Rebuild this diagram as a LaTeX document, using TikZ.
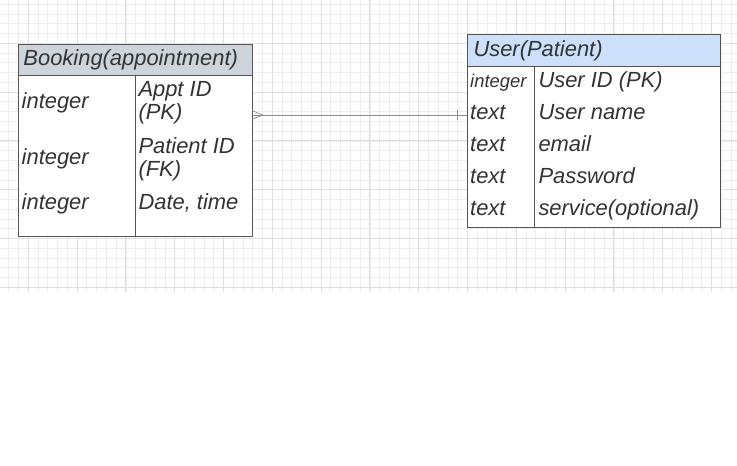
\documentclass[tikz,border=0pt]{standalone}
\usepackage{fontspec}
\setmainfont{Liberation Sans}
\definecolor{gridminor}{HTML}{EEEEEE}
\definecolor{gridmajor}{HTML}{E0E0E0}
\definecolor{hdrgray}{HTML}{CED4DC}
\definecolor{hdrblue}{HTML}{CCE0FB}
\definecolor{txtcol}{HTML}{333333}
\definecolor{bordercol}{HTML}{555555}
\definecolor{conncol}{HTML}{8C8C8C}
\begin{document}
\begin{tikzpicture}[x=1bp,y=-1bp,
  tbl/.style={draw=bordercol, line width=0.8bp, inner sep=0pt, outer sep=0pt, anchor=north west},
  divline/.style={draw=bordercol, line width=0.8bp},
  txt/.style={font=\fontsize{22}{24}\selectfont\itshape, text=txtcol, inner sep=0pt, anchor=base west},
  smalltxt/.style={font=\fontsize{18.5}{20}\selectfont\itshape, text=txtcol, inner sep=0pt, anchor=base west},
  conn/.style={draw=conncol, line width=0.7bp},
  minorgrid/.style={draw=gridminor, line width=0.8bp},
  majorgrid/.style={draw=gridmajor, line width=0.9bp}]
\useasboundingbox[fill=white] (0,0) rectangle (737,466);
% grid
\foreach \k in {1,...,76} {\draw[minorgrid] ({-0.98+9.76*\k},0) -- ({-0.98+9.76*\k},292);}
\foreach \k in {0,...,29} {\draw[minorgrid] (0,{4.3+9.76*\k}) -- (737,{4.3+9.76*\k});}
\foreach \k in {0,...,14} {\draw[majorgrid] ({28.3+48.8*\k},0) -- ({28.3+48.8*\k},292);}
\foreach \k in {0,...,5} {\draw[majorgrid] (0,{43.3+48.8*\k}) -- (737,{43.3+48.8*\k});}

% Booking table
\node[tbl, fill=white, minimum width=234bp, minimum height=191.7bp] (booking) at (18.3,44.3) {};
\node[tbl, fill=hdrgray, minimum width=234bp, minimum height=31.4bp] (bookhdr) at (18.3,44.3) {};
\coordinate (bdiv) at (135.7,0);
\draw[divline] (bdiv |- bookhdr.south) -- (bdiv |- booking.south);
\node[txt] (bt) at (23.3,66) {Booking(appointment)};
\node[txt] (bi1) at (21.5,108.3) {integer};
\node[txt] (bi2) at (21.5,165) {integer};
\node[txt] (bi3) at (21.5,210) {integer};
\node[txt] (ba1) at (138.3,96.7) {Appt ID};
\node[txt] (ba2) at (138.3,120) {(PK)};
\node[txt] (bp1) at (138.3,153.3) {Patient ID};
\node[txt] (bp2) at (138.3,176.7) {(FK)};
\node[txt] (bd) at (138.3,210) {Date, time};

% User table
\node[tbl, fill=white, minimum width=253.4bp, minimum height=192.6bp] (user) at (467.3,34.7) {};
\node[tbl, fill=hdrblue, minimum width=253.4bp, minimum height=31.6bp] (userhdr) at (467.3,34.7) {};
\coordinate (udiv) at (534.3,0);
\draw[divline] (udiv |- userhdr.south) -- (udiv |- user.south);
\node[txt] (ut) at (473.3,56.3) {User(Patient)};
\node[smalltxt] (ui) at (470,87.3) {integer};
\node[txt] (ut1) at (470,120) {text};
\node[txt] (ut2) at (470,152) {text};
\node[txt] (ut3) at (470,184) {text};
\node[txt] (ut4) at (470,216) {text};
\node[txt] (un0) at (538.3,88) {User ID (PK)};
\node[txt] (un1) at (538.3,120) {User name};
\node[txt] (un2) at (538.3,152) {email};
\node[txt] (un3) at (538.3,184) {Password};
\node[txt] (un4) at (538.3,216) {service(optional)};

% connector
\coordinate (bline) at (0,115);
\draw[conn] (booking.east |- bline) -- (user.west |- bline);
\draw[conn] (booking.east |- bline) ++(0,-4.3) -- ++(10.4,4.3) -- ++(-10.4,4.3);
\draw[conn] (user.west |- bline) ++(-10,-5) -- ++(0,10);
\end{tikzpicture}
\end{document}
